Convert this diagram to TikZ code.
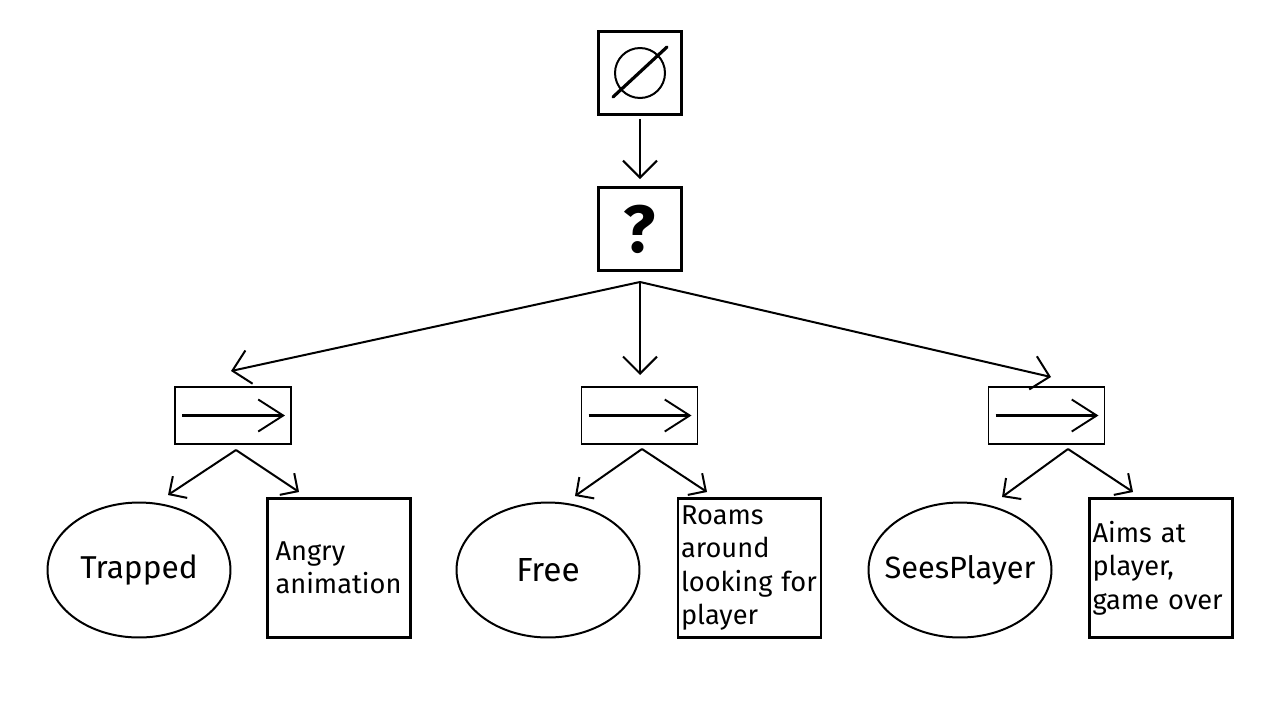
\documentclass[tikz,border=0pt]{standalone}
\usepackage{fontspec}
\setmainfont{Fira Sans}
\usetikzlibrary{arrows.meta,shapes.geometric,calc}
\begin{document}
\begin{tikzpicture}[x=0.02cm,y=-0.02cm,
  bigbox/.style={draw,line width=0.06cm,minimum size=1.66cm,inner sep=0pt},
  seqbox/.style={draw,line width=0.024cm,minimum width=2.32cm,minimum height=1.14cm,inner sep=0pt},
  cond/.style={draw,ellipse,line width=0.04cm,minimum width=3.66cm,minimum height=2.7cm,inner sep=0pt,font=\fontsize{17.5}{20}\selectfont},
  act/.style={draw,line width=0.056cm,minimum height=2.78cm,text width=2.74cm,inner xsep=0.06cm,align=left,font=\fontsize{15.5}{19}\selectfont},
  bigarrow/.style={line width=0.04cm,-{Straight Barb[length=0.34cm,width=0.68cm,line width=0.04cm]}},
  smallarrow/.style={line width=0.04cm,-{Straight Barb[length=0.26cm,width=0.52cm,line width=0.04cm]}},
  inarrow/.style={line width=0.05cm,-{Straight Barb[length=0.5cm,width=0.64cm,line width=0.038cm]}}]
\useasboundingbox (0,0) rectangle (1280,720);
\fill[white] (0,0) rectangle (1280,720);
% top
\node[bigbox] (root) at (640,73) {};
\draw[line width=0.04cm] (root.center) circle (0.5cm);
\draw[line width=0.064cm,line cap=round] ([shift={(-0.54cm,-0.48cm)}]root.center) -- ([shift={(0.54cm,0.52cm)}]root.center);
\node[bigbox,font=\fontsize{38}{40}\selectfont\bfseries] (sel) at (640,229) {?};
\draw[bigarrow] ([yshift=-0.06cm]root.south) -- ([yshift=0.14cm]sel.north);
% sequences
\node[seqbox] (s1) at (233,415.5) {};
\node[seqbox] (s2) at (639.5,415.5) {};
\node[seqbox] (s3) at (1046.5,415.5) {};
\foreach \s in {s1,s2,s3}{
  \draw[inarrow] ([xshift=-1.02cm]\s.center) -- ([xshift=1.04cm]\s.center);
}
\coordinate (fan) at (640,282);
\coordinate (t1) at (231,371);
\coordinate (t2) at (640,375);
\coordinate (t3) at (1051,377);
\draw[bigarrow] (fan) -- (t1);
\draw[bigarrow] (fan) -- (t2);
\draw[bigarrow] (fan) -- (t3);
% leaves
\node[cond] (c1) at (139,570) {\makebox[0pt]{\fontsize{18}{20}\selectfont Trapped}};
\node[act] (a1) at (339,568) {\hspace*{0.1cm}Angry\\\hspace*{0.1cm}animation};
\node[cond] (c2) at (548,570) {\makebox[0pt]{\fontsize{19}{20}\selectfont Free}};
\node[act] (a2) at (749.5,568) {Roams\\around\\\mbox{looking for}\\player};
\node[cond] (c3) at (960,570) {\makebox[0pt]{SeesPlayer}};
\node[act] (a3) at (1161,568) {\mbox{Aims at}\\player,\\\mbox{game over}};
% fans
\coordinate (f1) at (236,450);
\coordinate (f2) at (642,449);
\coordinate (f3) at (1068,449);
\coordinate (e1a) at (168,495); \coordinate (e1b) at (299,492);
\coordinate (e2a) at (575,496); \coordinate (e2b) at (707,492);
\coordinate (e3a) at (1002,497); \coordinate (e3b) at (1133,492);
\draw[smallarrow] (f1) -- (e1a);
\draw[smallarrow] (f1) -- (e1b);
\draw[smallarrow] (f2) -- (e2a);
\draw[smallarrow] (f2) -- (e2b);
\draw[smallarrow] (f3) -- (e3a);
\draw[smallarrow] (f3) -- (e3b);
\end{tikzpicture}
\end{document}
